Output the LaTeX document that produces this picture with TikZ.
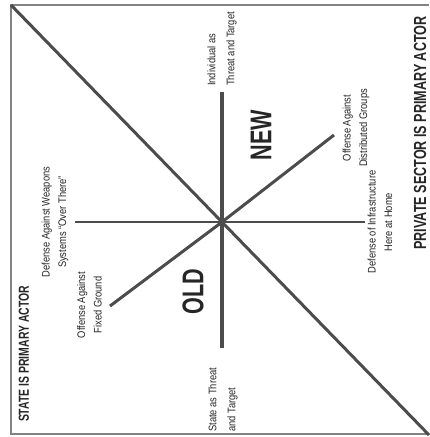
\documentclass[tikz,border=0pt]{standalone}
\usepackage{fontspec}
\setmainfont[FakeStretch=0.85]{Liberation Sans}
\newfontfamily\headfont[FakeStretch=0.72]{Liberation Sans}
\usepackage{tikz}
\definecolor{ink}{gray}{0.3}
\tikzset{every picture/.style={x=1pt,y=-1pt,every node/.style={inner sep=0pt,text=ink!50!black}},
  axis/.style={draw=ink,line width=3pt},
  tag/.style={rotate=90,align=center,font=\fontsize{11}{16.5}\selectfont},
  side/.style={rotate=90,font=\headfont\bfseries\fontsize{#1}{#1}\selectfont},
  era/.style={rotate=90,font=\headfont\bfseries\fontsize{30}{30}\selectfont}}

\begin{document}
\begin{tikzpicture}
  \useasboundingbox (0,0) rectangle (429,437);
  % frame
  \coordinate (tl) at (11,5);
  \coordinate (br) at (429,435);
  \draw[line width=1.5pt,draw=ink!70] (429,5) -- (tl) -- (11,434) -- (429,434);

  % ends of the spokes
  \coordinate (ctr) at (222,222);
  \coordinate (up) at (222,92);
  \coordinate (down) at (222,348);
  \coordinate (lt) at (75,222);
  \coordinate (rt) at (365,222);
  \coordinate (ne) at (334,135);
  \coordinate (sw) at (110,306);

  \draw[axis] (tl) -- (br);
  \foreach \tip/\w in {up/4pt, down/4pt, lt/2pt, rt/2pt, ne/3pt, sw/3pt}
    \draw[axis, line width=\w] (ctr) -- (\tip);

  \node[side=17.5] (priv) at (420,133) {PRIVATE SECTOR IS PRIMARY ACTOR};
  \node[side=14.5] (state) at (24,354) {STATE IS PRIMARY ACTOR};
  \node[era] (new) at (261,135) {NEW};
  \node[era] (old) at (193,292) {OLD};

  \node[tag, align=left, anchor=west, font=\fontsize{11}{19}\selectfont] (indiv) at (222,86) {Individual as\\Threat and Target};
  \node[tag, align=left, anchor=west, font=\fontsize{11}{19}\selectfont] (stt) at (223,432) {State as Threat\\and Target};
  \node[tag] (weap) at (55,222) {Defense Against Weapons\\Systems ``Over There''};
  \node[tag] (fixed) at (89.5,305) {Offense Against\\Fixed Ground};
  \node[tag] (distr) at (356,128) {Offense Against\\Distributed Groups};
  \node[tag] (infra) at (380,222) {Defense of Infrastructure\\Here at Home};
\end{tikzpicture}
\end{document}
